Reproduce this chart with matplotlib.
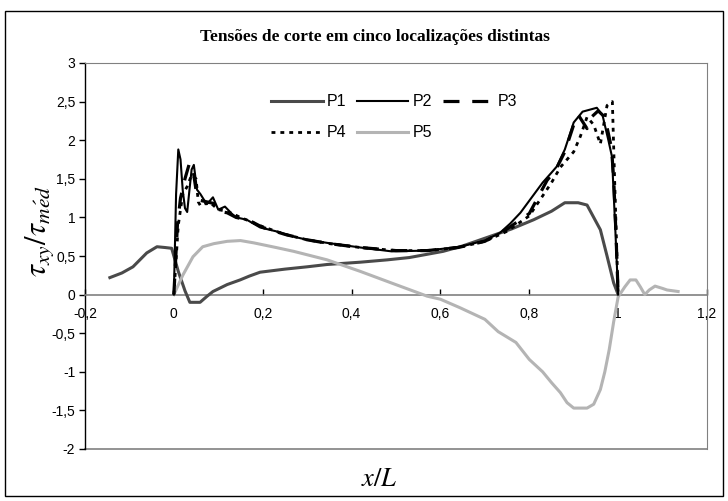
import matplotlib
matplotlib.use("Agg")
import matplotlib.pyplot as plt
from matplotlib.patches import Rectangle

# ---- data ----
p1_x = [-0.144, -0.117, -0.092, -0.061, -0.038, -0.02, -0.005, 0.01, 0.025, 0.036, 0.059, 0.075, 0.088, 0.12,
        0.149, 0.17, 0.194, 0.25, 0.3, 0.345, 0.42, 0.48, 0.53, 0.606, 0.65, 0.705, 0.76, 0.81, 0.85,
        0.88, 0.91, 0.93, 0.945, 0.96, 0.975, 0.99, 1.0]
p1_y = [0.22, 0.28, 0.36, 0.54, 0.62, 0.61, 0.6, 0.3, 0.05, -0.1, -0.1, -0.02, 0.04, 0.13,
        0.19, 0.24, 0.29, 0.33, 0.36, 0.39, 0.42, 0.45, 0.48, 0.56, 0.63, 0.74, 0.85, 0.97, 1.08,
        1.19, 1.19, 1.16, 1.0, 0.84, 0.5, 0.15, 0.0]

p2_x = [0.0, 0.005, 0.01, 0.015, 0.02, 0.025, 0.03, 0.035, 0.04, 0.045, 0.052, 0.06, 0.074, 0.088, 0.1,
        0.115, 0.13, 0.14, 0.164, 0.194, 0.23, 0.27, 0.3, 0.345, 0.42, 0.49, 0.57, 0.644, 0.7, 0.734,
        0.757, 0.78, 0.83, 0.85, 0.862, 0.88, 0.9, 0.92, 0.952, 0.965, 0.978, 0.986, 0.993, 1.0]
p2_y = [0.0, 1.3, 1.88, 1.75, 1.35, 1.12, 1.07, 1.35, 1.62, 1.68, 1.36, 1.3, 1.17, 1.26, 1.1,
        1.14, 1.05, 1.0, 0.97, 0.87, 0.82, 0.75, 0.71, 0.67, 0.61, 0.56, 0.57, 0.62, 0.7, 0.8,
        0.92, 1.06, 1.45, 1.58, 1.66, 1.88, 2.23, 2.37, 2.42, 2.32, 2.0, 1.79, 0.93, 0.0]

p3_x = [0.0, 0.008, 0.015, 0.025, 0.035, 0.042, 0.05, 0.06, 0.075, 0.09, 0.1, 0.12, 0.14, 0.17, 0.2,
        0.25, 0.3, 0.35, 0.42, 0.5, 0.57, 0.64, 0.7, 0.75, 0.8, 0.84, 0.86, 0.88, 0.9, 0.91,
        0.93, 0.94, 0.955, 0.97, 0.985, 0.99, 0.995, 1.0]
p3_y = [0.0, 0.9, 1.25, 1.5, 1.7, 1.66, 1.35, 1.22, 1.2, 1.18, 1.08, 1.06, 1.0, 0.96, 0.87,
        0.78, 0.71, 0.66, 0.61, 0.57, 0.57, 0.61, 0.69, 0.85, 1.05, 1.48, 1.62, 1.85, 2.2, 2.33,
        2.15, 2.3, 2.38, 2.3, 1.9, 1.5, 0.8, 0.0]

p4_x = [0.0, 0.01, 0.02, 0.03, 0.04, 0.05, 0.055, 0.06, 0.08, 0.1, 0.12, 0.15, 0.2, 0.25, 0.3,
        0.35, 0.42, 0.5, 0.57, 0.64, 0.7, 0.75, 0.8, 0.85, 0.87, 0.9, 0.915, 0.93, 0.945, 0.96,
        0.975, 0.987, 0.992, 1.0]
p4_y = [0.0, 0.9, 1.3, 1.4, 1.55, 1.5, 1.2, 1.15, 1.2, 1.1, 1.08, 1.0, 0.88, 0.78, 0.71,
        0.66, 0.61, 0.57, 0.57, 0.61, 0.69, 0.82, 1.02, 1.45, 1.65, 1.85, 2.05, 2.3, 2.2, 1.95,
        2.45, 2.5, 1.5, 0.0]

p5_x = [0.0, 0.02, 0.043, 0.065, 0.09, 0.12, 0.15, 0.18, 0.23, 0.27, 0.345, 0.42, 0.49, 0.57, 0.6,
        0.644, 0.7, 0.73, 0.77, 0.8, 0.83, 0.85, 0.87, 0.885, 0.9, 0.93, 0.945, 0.96, 0.97,
        0.98, 0.99, 1.0, 1.015, 1.027, 1.04, 1.05, 1.06, 1.07, 1.083, 1.1, 1.11, 1.135]
p5_y = [0.0, 0.25, 0.49, 0.62, 0.66, 0.69, 0.7, 0.67, 0.61, 0.56, 0.45, 0.30, 0.15, -0.02, -0.06,
        -0.17, -0.32, -0.48, -0.62, -0.84, -1.0, -1.14, -1.27, -1.4, -1.47, -1.47, -1.42, -1.23, -1.0,
        -0.71, -0.35, -0.03, 0.1, 0.19, 0.19, 0.1, 0.0, 0.06, 0.11, 0.08, 0.06, 0.04]

x_ticks = [-0.2, 0.0, 0.2, 0.4, 0.6, 0.8, 1.0, 1.2]
x_tick_labels = ["-0,2", "0", "0,2", "0,4", "0,6", "0,8", "1", "1,2"]
y_ticks = [-2, -1.5, -1, -0.5, 0, 0.5, 1, 1.5, 2, 2.5, 3]
y_tick_labels = ["-2", "-1,5", "-1", "-0,5", "0", "0,5", "1", "1,5", "2", "2,5", "3"]

title = "Tensões de corte em cinco localizações distintas"

# ---- figure ----
plt.rcParams['font.family'] = ['Liberation Sans', 'DejaVu Sans']
plt.rcParams['mathtext.fontset'] = 'stix'

W, H = 728, 501
fig = plt.figure(figsize=(W / 100, H / 100), dpi=100)

# outer chart border
fig.patches.append(Rectangle((5 / W, 1 - 496 / H), 718 / W, 485 / H, transform=fig.transFigure,
                             fill=False, edgecolor='black', linewidth=1.0))

ax = fig.add_axes([85 / W, 1 - 449 / H, (707 - 85) / W, (449 - 63) / H])
ax.set_xlim(-0.2, 1.2)
ax.set_ylim(-2, 3)

frame_gray = '#808080'
l1, = ax.plot(p1_x, p1_y, color='#4a4a4a', lw=2.2, label='P1', zorder=3)
l2, = ax.plot(p2_x, p2_y, color='black', lw=1.5, label='P2', zorder=4)
l3, = ax.plot(p3_x, p3_y, color='black', lw=2.3, dashes=(5.0, 4.0), label='P3', zorder=4)
l4, = ax.plot(p4_x, p4_y, color='black', lw=2.0, dashes=(1.4, 1.8), label='P4', zorder=4)
l5, = ax.plot(p5_x, p5_y, color='#b4b4b4', lw=2.2, label='P5', zorder=3)

# spines
ax.spines['left'].set_color('black')
ax.spines['left'].set_linewidth(1.0)
ax.spines['top'].set_color(frame_gray)
ax.spines['right'].set_color(frame_gray)
ax.spines['bottom'].set_position(('data', 0))
ax.spines['bottom'].set_color(frame_gray)
ax.spines['bottom'].set_linewidth(1.2)
ax.plot([0, 1], [0, 0], transform=ax.transAxes, color=frame_gray, lw=1.2, clip_on=False, zorder=1)

ax.set_xticks(x_ticks)
ax.set_xticklabels(x_tick_labels)
ax.set_yticks(y_ticks)
ax.set_yticklabels(y_tick_labels)
ax.tick_params(axis='x', direction='in', length=4, width=1, color='black', pad=9, labelsize=10)
ax.tick_params(axis='y', direction='out', length=4, width=1, color='black', pad=3, labelsize=10)

handles = [l1, l4, l2, l5, l3]
leg = ax.legend(handles=handles, labels=[h.get_label() for h in handles],
                loc='upper left', bbox_to_anchor=(180 / 622, 0.935), ncol=3, frameon=False,
                fontsize=11.5, handlelength=3.2, handletextpad=0.25, columnspacing=0.7,
                labelspacing=1.0, borderaxespad=0)

fig.text(375 / W, 1 - 37 / H, title, ha='center', va='center', fontsize=12.5,
         fontweight='bold', family='Liberation Serif')
fig.text(379 / W, 1 - 479 / H, r'$x/L$', ha='center', va='center', fontsize=19)
fig.text(40 / W, 1 - 231 / H, r'$\tau_{xy}/\tau_{m\acute{e}d}$', ha='center', va='center',
         fontsize=22, rotation=90)

fig.savefig('out.png', dpi=100)
